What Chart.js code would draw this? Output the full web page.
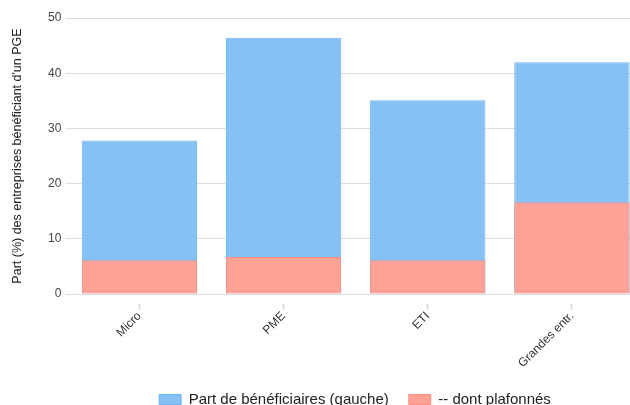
<!DOCTYPE html>
<html>
<head>
<meta charset="utf-8">
<script src="https://cdn.jsdelivr.net/npm/chart.js@4.4.0/dist/chart.umd.min.js"></script>
<style>
  html, body { margin: 0; padding: 0; background: #fff; overflow: hidden; }
  #wrap { width: 708px; height: 417px; }
</style>
</head>
<body>
<div id="wrap"><canvas id="pgeChart" width="708" height="417"></canvas></div>
<script>
// categories and values
const categories = ['Micro', 'PME', 'ETI', 'Grandes entr.'];
const partBeneficiaires = [27.8, 46.4, 35.1, 42.0];
const dontPlafonnes = [6.1, 6.7, 6.1, 16.6];
const yTicks = [0, 10, 20, 30, 40, 50];

const fontFamily = '"Liberation Sans", Arial, Helvetica, sans-serif';

const ctx = document.getElementById('pgeChart').getContext('2d');
new Chart(ctx, {
  type: 'bar',
  data: {
    labels: categories,
    datasets: [
      {
        label: 'Part de bénéficiaires (gauche)',
        data: partBeneficiaires,
        backgroundColor: '#85c1f4',
        borderColor: '#6eb3f0',
        borderWidth: 1,
        order: 1
      },
      {
        label: '-- dont plafonnés',
        data: dontPlafonnes,
        backgroundColor: '#ffa194',
        borderColor: '#ff8f80',
        borderWidth: 1,
        order: 0
      }
    ]
  },
  options: {
    responsive: false,
    animation: false,
    layout: { padding: { top: 18, left: 2, right: 0, bottom: 0 } },
    datasets: {
      bar: { categoryPercentage: 0.8, barPercentage: 1.0 }
    },
    plugins: {
      tooltip: { enabled: false },
      legend: {
        position: 'bottom',
        labels: {
          sort: (a, b) => a.datasetIndex - b.datasetIndex,
          boxWidth: 22,
          boxHeight: 10,
          padding: 20,
          color: '#222',
          font: { family: fontFamily, size: 15 }
        }
      }
    },
    scales: {
      x: {
        stacked: true,
        border: { display: false },
        grid: {
          offset: false,
          drawOnChartArea: false,
          tickLength: 16,
          tickColor: '#dddddd',
          tickWidth: 2,
          tickBorderDash: [0, 10, 6, 0]
        },
        ticks: {
          minRotation: 45,
          maxRotation: 45,
          padding: -1,
          color: '#333',
          font: { family: fontFamily, size: 12 }
        },
        afterFit: (scale) => { scale.height = 78; }
      },
      y: {
        stacked: false,
        min: 0,
        max: 50,
        afterBuildTicks: (scale) => { scale.ticks = yTicks.map(v => ({ value: v })); },
        border: { display: false },
        grid: { color: '#dddddd', tickLength: 2 },
        ticks: {
          padding: 4,
          color: '#444',
          font: { family: fontFamily, size: 12 }
        },
        title: {
          display: true,
          text: "Part (%) des entreprises bénéficiant d'un PGE",
          color: '#222',
          padding: { top: 8, bottom: 19 },
          font: { family: fontFamily, size: 12.5 }
        }
      },
      y1: {
        position: 'right',
        min: 0,
        max: 50,
        border: { display: false },
        grid: { drawOnChartArea: false, display: false },
        ticks: { display: false },
        afterFit: (scale) => { scale.width = 64; }
      }
    }
  }
});
</script>
</body>
</html>
